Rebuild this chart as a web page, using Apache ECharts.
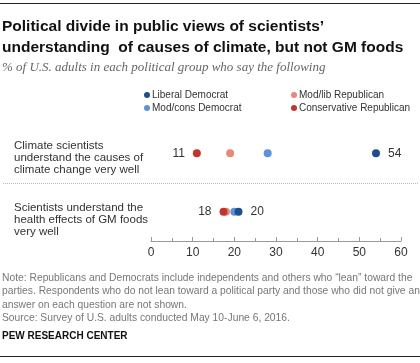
<!DOCTYPE html>
<html><head><meta charset="utf-8">
<script src="https://cdn.jsdelivr.net/npm/echarts@6/dist/echarts.min.js"></script>
<style>html,body{margin:0;padding:0;background:#fff}#c{width:420px;height:363px}</style>
</head><body><div id="c"></div>
<script>
var categories = ['Climate scientists\nunderstand the causes of\nclimate change very well', 'Scientists understand the\nhealth effects of GM foods\nvery well'];
var seriesNames = ['Liberal Democrat', 'Mod/cons Democrat', 'Mod/lib Republican', 'Conservative Republican'];
var libDem = [54, 21];
var modConsDem = [28, 20];
var modLibRep = [19, 18];
var consRep = [11, 17.4];
var libDemLabels = ['54', '20'];
var consRepLabels = ['11', '18'];
var xTicks = [0, 10, 20, 30, 40, 50, 60];
var colors = ['#1f4e8c', '#5b93d8', '#e8887a', '#c3352b'];

function mk(vals) { return vals.map(function (v, i) { return [v, categories[i]]; }); }

var chart = echarts.init(document.getElementById('c'));
var baseFont = 'Liberation Sans, Arial, sans-serif';
var seriesList = [
  { name: seriesNames[2], data: mk(modLibRep), color: colors[2], z: 2 },
  { name: seriesNames[3], data: mk(consRep), color: colors[3], z: 3, labels: consRepLabels, pos: 'left' },
  { name: seriesNames[1], data: mk(modConsDem), color: colors[1], z: 4 },
  { name: seriesNames[0], data: mk(libDem), color: colors[0], z: 5, labels: libDemLabels, pos: 'right' }
].map(function (s) {
  var o = {
    type: 'scatter', name: s.name, data: s.data, z: s.z,
    symbol: 'circle', symbolSize: 8,
    itemStyle: { color: s.color, opacity: 1 },
    emphasis: { disabled: true }
  };
  if (s.labels) {
    o.label = {
      show: true, position: s.pos, distance: 8,
      fontFamily: baseFont, fontSize: 12, color: '#333',
      formatter: (function (lab) { return function (p) { return lab[p.dataIndex]; }; })(s.labels)
    };
  }
  return o;
});

var staticGraphics = [
  { type: 'line', shape: { x1: 0, y1: 3.5, x2: 420, y2: 3.5 }, style: { stroke: '#222', lineWidth: 1 } },
  { type: 'text', left: 2, top: 16, style: { text: 'Political divide in public views of scientists’\nunderstanding  of causes of climate, but not GM foods',
    font: 'bold 15.5px ' + baseFont, fill: '#111', lineHeight: 21 } },
  { type: 'text', left: 2, top: 61, style: { text: '% of U.S. adults in each political group who say the following',
    font: 'italic 13px Liberation Serif, serif', fill: '#666' } },
  { type: 'line', shape: { x1: 3, y1: 183.5, x2: 418, y2: 183.5 }, style: { stroke: '#bbb', lineWidth: 1, lineDash: [1, 1] } },
  { type: 'text', left: 2, top: 271, style: { text: 'Note: Republicans and Democrats include independents and others who “lean” toward the\nparties. Respondents who do not lean toward a political party and those who did not give an\nanswer on each question are not shown.\nSource: Survey of U.S. adults conducted May 10-June 6, 2016.',
    font: '10.3px ' + baseFont, fill: '#777', lineHeight: 13.5 } },
  { type: 'text', left: 2, top: 331, style: { text: 'PEW RESEARCH CENTER', font: 'bold 10px ' + baseFont, fill: '#111' } },
  { type: 'line', shape: { x1: 0, y1: 356.5, x2: 420, y2: 356.5 }, style: { stroke: '#222', lineWidth: 1 } }
];

chart.setOption({
  animation: false,
  textStyle: { fontFamily: baseFont },
  grid: { left: 151, right: 19, top: 124, height: 117, containLabel: false },
  legend: [
    { data: [seriesNames[0], seriesNames[1]], orient: 'vertical', left: 139, top: 85, itemGap: 3,
      icon: 'circle', itemWidth: 6, itemHeight: 6,
      textStyle: { fontSize: 10, color: '#333', padding: [0, 0, 0, -3] } },
    { data: [seriesNames[2], seriesNames[3]], orient: 'vertical', left: 286, top: 85, itemGap: 3,
      icon: 'circle', itemWidth: 6, itemHeight: 6,
      textStyle: { fontSize: 10, color: '#333', padding: [0, 0, 0, -3] } }
  ],
  xAxis: {
    type: 'value', min: 0, max: 60, interval: 10,
    axisLine: { show: true, lineStyle: { color: '#999' } },
    axisTick: { show: true, inside: true, length: 4, lineStyle: { color: '#999' } },
    minorTick: { show: true, splitNumber: 2, length: 3, lineStyle: { color: '#999' } },
    splitLine: { show: false },
    axisLabel: { fontSize: 12, color: '#333', margin: 6,
      formatter: function (v) { return xTicks.indexOf(v) >= 0 ? String(v) : ''; } }
  },
  yAxis: {
    type: 'category', data: categories, inverse: true,
    axisLine: { show: false }, axisTick: { show: false }, splitLine: { show: false },
    axisLabel: { show: false }
  },
  series: seriesList,
  graphic: staticGraphics
});

// Row labels, positioned from the category axis
var rowLabels = categories.map(function (c, i) {
  var y = chart.convertToPixel({ yAxisIndex: 0 }, c);
  return { type: 'text', left: 14, top: y - 13.5 + i * 3.5,
    style: { text: c, font: '11.5px ' + baseFont, fill: '#333', lineHeight: 12 } };
});
chart.setOption({ graphic: staticGraphics.concat(rowLabels) });
</script></body></html>
